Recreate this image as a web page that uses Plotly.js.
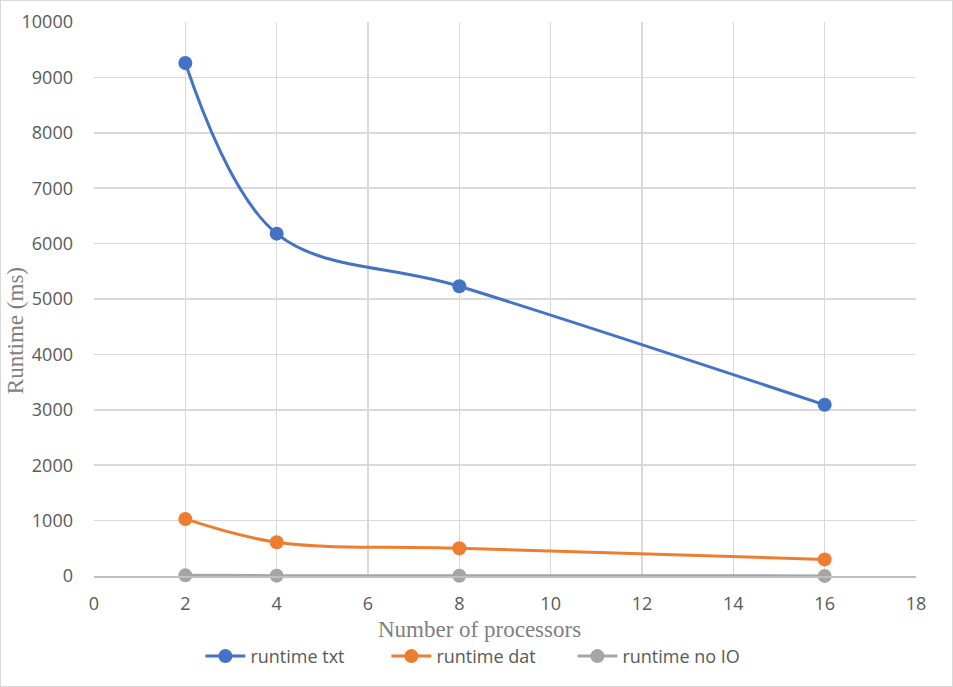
<!DOCTYPE html>
<html>
<head>
<meta charset="utf-8">
<script src="https://cdn.plot.ly/plotly-3.0.1.min.js"></script>
<style>
  html, body { margin: 0; padding: 0; background: #fff; }
  #chart { width: 953px; height: 687px; box-sizing: border-box; border: 1px solid #d9d9d9; }
</style>
</head>
<body>
<div id="chart"></div>
<script>
// Number of processors on the x axis
const processors = [2, 4, 8, 16];

// Runtimes in milliseconds for each storage mode
const runtimeTxt = [9260, 6180, 5230, 3090];
const runtimeDat = [1030, 610, 500, 300];
const runtimeNoIO = [12, 6, 4, 2];

const seriesNames = ['runtime txt', 'runtime dat', 'runtime no IO'];
const seriesColors = ['#4472c4', '#ed7d31', '#a5a5a5'];
const seriesValues = [runtimeTxt, runtimeDat, runtimeNoIO];

const xTitle = 'Number of processors';
const yTitle = 'Runtime (ms)';

const traces = seriesValues.map((vals, i) => ({
  x: processors,
  y: vals,
  name: seriesNames[i],
  type: 'scatter',
  mode: 'lines+markers',
  line: { color: seriesColors[i], width: 3, shape: 'spline', smoothing: 1 },
  marker: { color: seriesColors[i], size: 14 },
  cliponaxis: false
}));

const tickFont = { family: 'Open Sans, Liberation Sans, sans-serif', size: 18, color: '#595959' };
const titleFont = { family: 'Liberation Serif, DejaVu Serif, serif', size: 23, color: '#7f7f7f' };

const layout = {
  width: 953,
  height: 687,
  margin: { l: 93, r: 38, t: 21, b: 112 },
  paper_bgcolor: 'rgba(0,0,0,0)',
  plot_bgcolor: '#ffffff',
  showlegend: true,
  legend: {
    orientation: 'h',
    xref: 'container', yref: 'container',
    x: 0.502, xanchor: 'center',
    y: 0.046, yanchor: 'middle',
    font: tickFont,
    itemwidth: 40,
    entrywidth: 131,
    traceorder: 'normal'
  },
  xaxis: {
    range: [0, 18],
    tick0: 0, dtick: 2,
    automargin: false,
    showgrid: true, gridcolor: '#d9d9d9', gridwidth: 1.5,
    zeroline: false,
    showline: true, linecolor: '#bfbfbf', linewidth: 1.5,
    ticks: '', ticklabelstandoff: 11,
    tickfont: tickFont
  },
  yaxis: {
    range: [0, 10000],
    tick0: 0, dtick: 1000,
    tickformat: 'd',
    automargin: false,
    showgrid: true, gridcolor: '#d9d9d9', gridwidth: 1.5,
    zeroline: false,
    showline: false,
    ticks: '', ticklabelstandoff: 20,
    tickfont: tickFont
  },
  // Axis titles placed as annotations so they sit where the layout needs them
  annotations: [
    {
      text: xTitle,
      font: titleFont,
      showarrow: false,
      borderpad: 0,
      xref: 'paper', yref: 'paper',
      x: 0.469, y: -0.0957,
      xanchor: 'center', yanchor: 'middle'
    },
    {
      text: yTitle,
      textangle: -90,
      font: titleFont,
      showarrow: false,
      borderpad: 0,
      xref: 'paper', yref: 'paper',
      x: -0.0961, y: 0.442,
      xanchor: 'center', yanchor: 'middle'
    }
  ]
};

Plotly.newPlot('chart', traces, layout, { displayModeBar: false, staticPlot: true });
</script>
</body>
</html>
